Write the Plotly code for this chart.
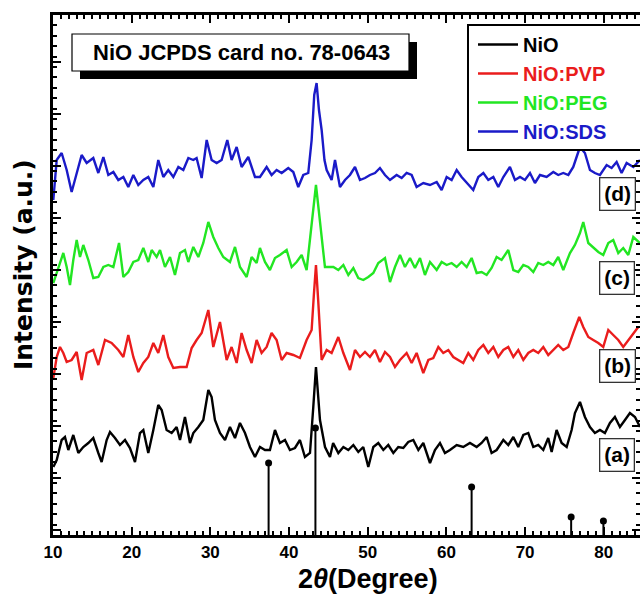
import plotly.graph_objects as go

# ---------------- data ----------------
# (a) NiO
x_a = [10.04, 10.47, 11.10, 11.52, 11.95, 12.58, 13.22, 13.85, 14.49, 15.12, 15.76, 16.18, 16.82, 17.24, 17.88,
       18.51, 19.15, 19.78, 20.42, 21.05, 21.48, 22.11, 22.75, 23.38, 23.81, 24.44, 25.08, 25.71, 26.14, 26.77,
       27.41, 27.83, 28.47, 29.10, 29.74, 30.16, 30.58, 31.22, 31.86, 32.49, 33.13, 33.76, 34.40, 35.03, 35.67,
       36.30, 36.94, 37.57, 38.21, 38.84, 39.48, 40.11, 40.75, 41.38, 42.02, 42.66, 43.08, 43.42, 43.93, 44.57,
       45.20, 45.60, 46.26, 46.90, 47.53, 48.17, 48.80, 49.43, 50.07, 50.71, 51.34, 51.98, 52.61, 53.25, 53.88,
       54.52, 55.15, 55.79, 56.43, 57.06, 57.91, 58.54, 59.18, 59.81, 60.45, 61.30, 62.14, 62.99, 63.84, 64.47,
       65.11, 65.74, 66.38, 67.23, 67.86, 68.50, 69.13, 69.77, 70.40, 71.04, 71.67, 72.31, 72.94, 73.37, 74.00,
       74.64, 75.28, 75.91, 76.33, 76.97, 77.60, 78.24, 78.87, 79.51, 80.14, 80.78, 81.41, 82.05, 82.69, 83.32,
       83.96, 84.60]
y_a = [68, 75, 95, 98, 85, 100, 82, 88, 92, 97, 82, 73, 95, 103, 97,
       90, 95, 87, 73, 102, 105, 82, 105, 130, 125, 105, 102, 108, 95, 118,
       92, 102, 108, 115, 145, 138, 115, 102, 95, 108, 97, 112, 102, 88, 78,
       88, 85, 85, 105, 92, 95, 85, 87, 95, 78, 82, 128, 168, 115, 88,
       78, 92, 82, 88, 85, 90, 83, 88, 68, 88, 92, 85, 90, 82, 88,
       87, 93, 95, 85, 92, 72, 85, 92, 82, 85, 90, 88, 92, 88, 92,
       98, 82, 85, 95, 90, 98, 88, 100, 102, 88, 90, 85, 97, 83, 105,
       92, 88, 105, 122, 133, 118, 108, 102, 105, 102, 112, 118, 108, 115, 122,
       118, 108]

# (b) NiO:PVP
x_b = [10.04, 10.47, 10.89, 11.31, 11.74, 12.37, 13.01, 13.64, 14.28, 15.12, 15.76, 16.61, 17.45, 18.30, 18.94,
       19.57, 20.21, 20.84, 21.48, 22.11, 22.75, 23.38, 24.02, 24.65, 25.29, 26.14, 26.98, 27.62, 28.25, 28.89,
       29.74, 30.37, 31.22, 32.07, 32.70, 33.34, 33.97, 34.61, 35.24, 35.88, 36.51, 37.15, 37.78, 38.42, 39.06,
       39.69, 40.54, 41.38, 42.23, 42.87, 43.15, 43.42, 43.70, 44.14, 44.78, 45.41, 46.26, 46.90, 47.74, 48.38,
       49.01, 49.65, 50.28, 50.92, 51.55, 52.19, 52.83, 53.46, 54.10, 54.94, 55.58, 56.21, 57.06, 57.70, 58.33,
       58.97, 59.60, 60.24, 60.87, 61.51, 62.14, 62.78, 63.41, 64.05, 64.69, 65.32, 65.96, 66.59, 67.23, 67.86,
       68.50, 69.13, 69.77, 70.40, 71.04, 71.67, 72.31, 72.94, 73.58, 74.21, 74.85, 75.49, 76.12, 76.88, 77.39,
       78.03, 78.66, 79.30, 79.93, 80.57, 81.20, 81.84, 82.47, 83.11, 83.75, 84.38]
y_b = [157, 178, 188, 182, 173, 175, 183, 155, 182, 185, 170, 195, 192, 185, 178,
       200, 178, 163, 172, 178, 192, 182, 200, 178, 167, 168, 168, 187, 195, 202,
       225, 188, 213, 175, 188, 172, 202, 185, 172, 195, 182, 188, 202, 195, 175,
       182, 180, 177, 195, 205, 240, 270, 235, 175, 185, 182, 198, 182, 165, 185,
       178, 183, 178, 185, 173, 183, 178, 168, 175, 182, 172, 182, 162, 175, 177,
       188, 182, 185, 178, 175, 172, 182, 175, 185, 190, 182, 188, 178, 185, 188,
       178, 185, 175, 182, 185, 182, 188, 180, 185, 190, 185, 188, 202, 218, 208,
       198, 195, 192, 188, 205, 200, 195, 188, 195, 202, 208]

# (c) NiO:PEG
x_c = [10.04, 10.68, 11.31, 11.74, 12.16, 12.58, 13.01, 13.43, 13.85, 14.49, 15.12, 15.76, 16.40, 17.03, 17.67,
       18.39, 18.94, 19.57, 20.21, 20.84, 21.48, 22.11, 22.54, 23.17, 23.60, 24.23, 24.87, 25.50, 26.14, 26.77,
       27.20, 27.83, 28.47, 29.10, 29.74, 30.37, 31.01, 31.64, 32.49, 33.13, 33.76, 34.61, 35.24, 35.88, 36.30,
       36.94, 37.57, 38.21, 38.84, 39.69, 40.33, 40.96, 41.60, 42.23, 42.87, 43.15, 43.42, 43.70, 43.93, 44.56,
       45.63, 46.26, 46.90, 47.53, 48.17, 48.80, 49.44, 50.07, 50.71, 51.34, 52.19, 52.83, 53.46, 54.10, 54.73,
       55.37, 56.00, 56.64, 57.27, 57.91, 58.76, 59.39, 60.03, 60.66, 61.30, 61.93, 62.57, 63.20, 63.84, 64.47,
       65.11, 65.74, 66.38, 67.01, 67.86, 68.50, 69.13, 69.77, 70.40, 71.04, 71.67, 72.31, 72.94, 73.58, 74.21,
       74.85, 75.70, 76.33, 76.97, 77.39, 78.03, 78.66, 79.30, 79.93, 80.57, 81.20, 81.84, 82.47, 83.11, 83.75,
       84.59]
y_c = [252, 268, 282, 268, 250, 275, 295, 278, 290, 275, 257, 258, 268, 270, 268,
       292, 258, 263, 273, 275, 287, 273, 285, 278, 285, 268, 278, 260, 282, 285,
       273, 288, 278, 292, 313, 298, 287, 278, 273, 288, 268, 258, 278, 272, 287,
       273, 265, 277, 280, 285, 268, 273, 280, 265, 308, 330, 350, 330, 312, 268,
       268, 265, 270, 260, 267, 257, 255, 258, 262, 272, 277, 253, 268, 280, 268,
       277, 267, 277, 260, 273, 265, 273, 270, 272, 268, 273, 268, 277, 262, 263,
       260, 267, 278, 275, 285, 265, 263, 270, 268, 263, 272, 270, 273, 270, 278,
       265, 282, 290, 302, 313, 292, 288, 283, 280, 292, 295, 282, 287, 280, 298,
       292]

# (d) NiO:SDS
x_d = [10.04, 10.47, 11.10, 11.74, 12.37, 13.01, 13.64, 14.28, 15.12, 15.76, 16.40, 17.03, 17.67, 18.30, 18.94,
       19.57, 20.21, 20.84, 21.48, 22.11, 22.75, 23.38, 24.02, 24.65, 25.29, 25.93, 26.56, 27.20, 27.83, 28.25,
       28.89, 29.53, 30.16, 30.80, 31.43, 32.15, 32.70, 33.34, 33.97, 34.82, 35.67, 36.30, 37.15, 37.78, 38.42,
       39.06, 39.90, 40.54, 41.17, 41.81, 42.44, 42.87, 43.20, 43.50, 43.80, 44.14, 44.50, 44.78, 45.41, 45.84,
       46.47, 47.11, 47.74, 48.38, 49.01, 49.65, 50.28, 50.92, 51.55, 52.19, 52.83, 53.67, 54.31, 54.94, 55.58,
       56.21, 57.06, 57.91, 58.76, 59.39, 60.03, 60.66, 61.30, 61.93, 62.57, 63.41, 64.05, 64.69, 65.32, 65.96,
       66.59, 67.23, 68.07, 68.71, 69.35, 69.98, 70.62, 71.25, 71.89, 72.73, 73.58, 74.21, 74.85, 75.49, 76.12,
       76.97, 77.60, 78.24, 78.87, 79.51, 80.36, 80.99, 81.63, 82.26, 82.90, 83.75, 84.59]
y_d = [335, 375, 382, 365, 343, 362, 380, 372, 377, 362, 378, 360, 363, 355, 358,
       348, 360, 350, 355, 358, 348, 375, 358, 365, 358, 368, 365, 377, 375, 377,
       357, 395, 375, 372, 375, 395, 375, 388, 368, 378, 358, 358, 368, 360, 365,
       362, 367, 363, 348, 360, 362, 395, 440, 452, 425, 405, 375, 365, 355, 375,
       348, 355, 360, 368, 355, 357, 360, 362, 367, 360, 355, 360, 357, 362, 360,
       348, 352, 350, 353, 345, 358, 355, 365, 358, 352, 345, 358, 362, 355, 358,
       348, 358, 368, 355, 358, 355, 362, 352, 360, 358, 363, 360, 362, 360, 368,
       388, 382, 365, 362, 360, 370, 367, 373, 362, 372, 368, 375]

# JCPDS 78-0643 reference lines
stick_pos = [37.40, 43.35, 63.20, 75.85, 79.95]
stick_int = [72, 107, 48, 18, 14]

series_names = ["NiO", "NiO:PVP", "NiO:PEG", "NiO:SDS"]
series_colors = ["#000000", "#ea1c1c", "#22e622", "#1a1ac8"]
panel_labels = ["(a)", "(b)", "(c)", "(d)"]

# ---------------- figure ----------------
W, H = 640, 594
ML, MR, MT, MB = 53, 0, 15, 59
PW, PH = W - ML - MR, H - MT - MB


def px(x):
    return (x - ML) / PW


def py(y):
    return (H - MB - y) / PH


FONT = "Liberation Sans, Arial, sans-serif"
fig = go.Figure()

series = [(x_a, y_a), (x_b, y_b), (x_c, y_c), (x_d, y_d)]
for i, ((xs, ys), name, col) in enumerate(zip(series, series_names, series_colors)):
    fig.add_trace(go.Scatter(
        x=xs, y=ys, mode="lines", line=dict(color=col, width=2.4),
        name=f"<span style='color:{col}'><b>{name}</b></span>",
        legendgroup=f"g{i}", showlegend=True,
    ))

# stick pattern
sx, sy = [], []
for p, h in zip(stick_pos, stick_int):
    sx += [p, p, None]
    sy += [0, h, None]
fig.add_trace(go.Scatter(x=sx, y=sy, mode="lines", line=dict(color="black", width=2),
                         showlegend=False, hoverinfo="skip"))
fig.add_trace(go.Scatter(x=stick_pos, y=stick_int, mode="markers",
                         marker=dict(color="black", size=7), showlegend=False, hoverinfo="skip"))

# title box with shadow
fig.add_shape(type="rect", xref="paper", yref="paper",
              x0=px(80), x1=px(417), y0=py(79), y1=py(42),
              fillcolor="black", line=dict(width=0), layer="above")
fig.add_shape(type="rect", xref="paper", yref="paper",
              x0=px(72), x1=px(409), y0=py(71), y1=py(34),
              fillcolor="white", line=dict(color="black", width=1.2), layer="above")
fig.add_annotation(xref="paper", yref="paper", x=px(241), y=py(53),
                   text="<b>NiO JCPDS card no. 78-0643</b>", showarrow=False,
                   font=dict(family=FONT, size=22, color="black"),
                   xanchor="center", yanchor="middle")

# legend frame (extends past the right edge like the reference)
fig.add_shape(type="rect", xref="paper", yref="paper",
              x0=px(468), x1=px(660), y0=py(150), y1=py(25),
              fillcolor="white", line=dict(color="black", width=2), layer="above")

# panel labels
label_y = [80, 169, 257, 341]
for lab, yy in zip(panel_labels, label_y):
    fig.add_annotation(x=81.7, y=yy, xref="x", yref="y", text=f"<b>{lab}</b>",
                       showarrow=False, font=dict(family=FONT, size=21, color="black"),
                       bgcolor="white", bordercolor="#333", borderwidth=1.3, borderpad=4)

# axis titles
fig.add_annotation(xref="paper", yref="paper", x=px(368), y=py(579),
                   text="<b>2<i>θ</i>(Degree)</b>", showarrow=False,
                   font=dict(family=FONT, size=27, color="black"),
                   xanchor="center", yanchor="middle")
fig.add_annotation(xref="paper", yref="paper", x=px(23), y=py(265),
                   text="<b>Intensity (a.u.)</b>", showarrow=False, textangle=-90,
                   font=dict(family="DejaVu Sans, sans-serif", size=25, color="black"),
                   xanchor="center", yanchor="middle")

fig.update_layout(
    width=W, height=H,
    margin=dict(l=ML, r=MR, t=MT, b=MB, autoexpand=False),
    paper_bgcolor="white", plot_bgcolor="white",
    font=dict(family=FONT, color="black"),
    showlegend=True,
    legend=dict(x=px(473), y=py(25), xanchor="left", yanchor="top",
                bgcolor="rgba(0,0,0,0)", borderwidth=0,
                font=dict(family=FONT, size=20, color="black"),
                tracegroupgap=0, itemwidth=40),
    xaxis=dict(range=[10, 84.6], tickmode="linear", tick0=10, dtick=10,
               ticks="inside", ticklen=8, tickwidth=2, tickcolor="black",
               minor=dict(dtick=1, ticks="inside", ticklen=4, tickwidth=1.5, tickcolor="black"),
               showline=True, linecolor="black", linewidth=3, mirror="ticks",
               showgrid=False, zeroline=False,
               tickfont=dict(family=FONT, size=17, color="black"),
               tickprefix="<b>", ticksuffix="</b>"),
    yaxis=dict(range=[0, 520], tickmode="linear", tick0=5, dtick=52,
               ticks="inside", ticklen=8, tickwidth=2, tickcolor="black",
               minor=dict(dtick=10.4, ticks="inside", ticklen=4, tickwidth=1.5, tickcolor="black"),
               showline=True, linecolor="black", linewidth=3, mirror="ticks",
               showgrid=False, zeroline=False, showticklabels=False),
)

fig.write_html("out.html")
